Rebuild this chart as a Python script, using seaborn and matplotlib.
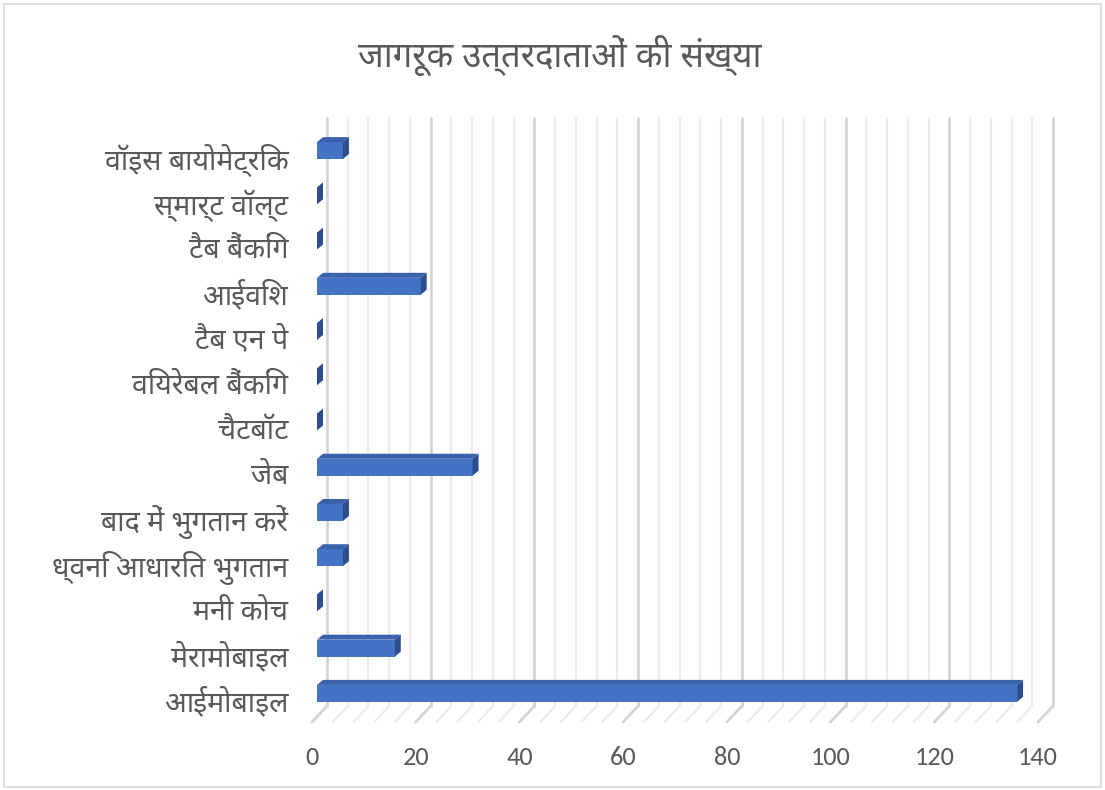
import matplotlib
matplotlib.use("Agg")
import numpy as np
import pandas as pd
import seaborn as sns
import matplotlib.pyplot as plt
from matplotlib import font_manager as fm
from matplotlib.ft2font import FT2Font
from matplotlib.patches import Polygon, Rectangle
from matplotlib.lines import Line2D

# ---------------- data ----------------
categories = ["वॉइस बायोमेट्रिक", "स्मार्ट वॉल्ट", "टैब बैंकिंग", "आईविश", "टैब एन पे",
              "वियरेबल बैंकिंग", "चैटबॉट", "जेब", "बाद में भुगतान करें",
              "ध्वनि आधारित भुगतान", "मनी कोच", "मेरामोबाइल", "आईमोबाइल"]
values = [5, 0, 0, 20, 0, 0, 0, 30, 5, 5, 0, 15, 135]
xticks = [0, 20, 40, 60, 80, 100, 120, 140]
title = "जागरूक उत्तरदाताओं की संख्या"

# ---------------- fonts ----------------
sns.set_theme(style="white")

def find_deva():
    prefs = ["Noto Sans Devanagari", "Hind", "Mukta", "Yantramanav", "Poppins", "Martel Sans"]
    names = {f.name for f in fm.fontManager.ttflist}
    for p in prefs:
        if p in names:
            return p
    for f in fm.fontManager.ttflist:
        try:
            if 0x0915 in FT2Font(f.fname).get_charmap():
                return f.name
        except Exception:
            pass
    return "DejaVu Sans"

deva = find_deva()
names = {f.name for f in fm.fontManager.ttflist}
numfont = "Carlito" if "Carlito" in names else "Open Sans"
plt.rcParams["font.family"] = [deva, "DejaVu Sans"]

text_col = "#595959"
front_col = "#4472C4"
top_col = "#3A62AC"
side_col = "#2D4E8C"

W, H = 1105, 790
fig = plt.figure(figsize=(W / 100, H / 100), dpi=100)
fig.patch.set_facecolor("white")
fig.patches.append(Rectangle((4 / W, 3 / H), 1 - 8 / W, 1 - 7 / H, transform=fig.transFigure,
                             fill=False, edgecolor="#D9D9D9", lw=1.2))

L, R, B, T = 312, 1038, 722, 134
ax = fig.add_axes([L / W, 1 - B / H, (R - L) / W, (B - T) / H])

df = pd.DataFrame({"cat": categories, "val": values})
sns.barplot(data=df, x="val", y="cat", orient="h", width=0.375, color=front_col,
            saturation=1, ax=ax, zorder=3)

xmax = xticks[-1]
n = len(categories)
ax.set_xlim(0, xmax)
ax.set_ylim(n - 0.5, -0.5)

pxx = (R - L) / xmax          # pixels per x unit
pxy = (B - T) / n             # pixels per category unit

def off(dxp, dyp):
    # convert pixel offset (right, up) to data offset
    return dxp / pxx, -dyp / pxy

# back wall gridlines + floor lines
bdx, bdy = off(15, 16)
for v in np.arange(0, xmax + 0.01, 4):
    major = (v % 20 == 0)
    c = "#D4D4D4" if major else "#ECECEC"
    lw = 2.0 if major else 1.6
    ax.add_line(Line2D([v + bdx, v + bdx], [n - 0.5 + bdy, -0.5 + bdy], color=c, lw=lw,
                       zorder=1, clip_on=False))
    ax.add_line(Line2D([v, v + bdx], [n - 0.5, n - 0.5 + bdy], color=c, lw=lw,
                       zorder=1, clip_on=False))

# 3-D bars
mdx, mdy = off(5, 6)
ddx, ddy = off(6, 5)
for p in list(ax.patches):
    x0 = p.get_x() + mdx
    y0 = p.get_y() + mdy
    w = p.get_width()
    h = p.get_height()
    p.set_x(x0)
    p.set_y(y0)
    p.set_linewidth(0)
    ytop = y0            # inverted axis: smaller y is visually up
    ybot = y0 + h
    x1 = x0 + w
    top = Polygon([(x0, ytop), (x1, ytop), (x1 + ddx, ytop + ddy), (x0 + ddx, ytop + ddy)],
                  closed=True, facecolor=top_col, edgecolor="none", zorder=3)
    side = Polygon([(x1, ytop), (x1, ybot), (x1 + ddx, ybot + ddy), (x1 + ddx, ytop + ddy)],
                   closed=True, facecolor=side_col, edgecolor="none", zorder=3)
    ax.add_patch(top)
    ax.add_patch(side)

for s in ax.spines.values():
    s.set_visible(False)
ax.grid(False)
ax.set_xlabel("")
ax.set_ylabel("")
ax.set_xticks(xticks)
ax.set_xticklabels([str(t) for t in xticks], family=[numfont, "DejaVu Sans"], fontsize=19,
                   color=text_col)
ax.set_yticks(range(n))
ax.set_yticklabels(categories, fontsize=20.5, color=text_col)
ax.tick_params(axis="both", length=0)
ax.tick_params(axis="x", pad=17)
ax.tick_params(axis="y", pad=17)
ax.patch.set_alpha(0)

fig.text(0.507, 1 - 55 / H, title, ha="center", va="center", fontsize=25, color=text_col)

fig.savefig("out.png", dpi=100)
